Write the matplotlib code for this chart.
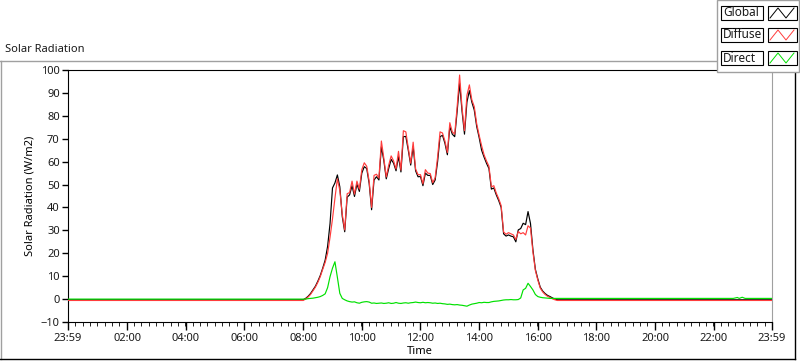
import numpy as np
import matplotlib.pyplot as plt
from matplotlib.lines import Line2D
from matplotlib.patches import Rectangle

plt.rcParams['font.family'] = ['Noto Sans', 'DejaVu Sans']

# minutes after midnight, 5-minute samples during the day
day_start, day_end, step = 480, 1020, 5

global_day = [
    -0.3, 0.3, 1.2, 2.4, 4.0, 5.6, 7.8, 10.3, 13.5, 17.0, 23.0, 33.0,       # 08
    48.5, 50.7, 54.2, 49.0, 36.0, 29.4, 44.5, 45.5, 49.5, 44.8, 50.2, 47.0,  # 09
    55.0, 57.8, 57.0, 50.5, 39.0, 52.0, 53.4, 52.0, 66.5, 60.5, 52.5, 57.0,  # 10
    61.0, 59.3, 56.0, 62.2, 55.5, 70.9, 71.0, 65.0, 58.5, 66.5, 56.0, 53.4,  # 11
    53.5, 49.5, 55.0, 54.0, 54.0, 50.0, 52.0, 60.0, 70.9, 71.5, 68.0, 63.0,  # 12
    75.3, 72.0, 70.9, 82.0, 94.2, 82.0, 72.0, 86.0, 91.0, 86.0, 82.5, 75.3,  # 13
    70.5, 65.0, 62.0, 59.3, 57.0, 48.0, 48.5, 45.5, 43.0, 40.0, 28.5, 27.5,  # 14
    28.0, 27.5, 27.2, 25.0, 30.2, 30.8, 33.1, 32.5, 38.2, 33.0, 21.5, 13.0,  # 15
    8.8, 5.2, 3.5, 2.4, 1.6, 1.1, 0.5, 0.0, -0.3, -0.3, -0.3, -0.3,          # 16
    -0.3,
]
diffuse_day = [
    -0.6, 0.0, 0.9, 2.0, 3.6, 5.2, 7.3, 9.8, 13.0, 16.0, 20.0, 27.0,
    35.0, 44.0, 52.5, 47.5, 37.0, 30.2, 46.0, 46.5, 51.5, 45.8, 51.5, 48.0,
    56.5, 59.5, 58.0, 51.5, 40.0, 54.0, 54.5, 52.8, 69.0, 61.5, 53.3, 58.5,
    62.5, 60.3, 56.8, 64.5, 56.3, 73.5, 73.0, 66.0, 59.3, 68.5, 56.8, 54.3,
    54.3, 50.3, 56.5, 55.0, 54.8, 50.8, 53.0, 62.0, 73.0, 72.5, 69.0, 64.0,
    77.0, 73.0, 72.0, 84.0, 97.8, 83.5, 73.5, 89.0, 93.5, 87.0, 84.0, 76.5,
    71.5, 67.0, 63.0, 60.3, 58.0, 49.0, 49.5, 46.3, 43.8, 40.8, 29.3, 28.3,
    29.0, 28.5, 28.0, 26.0, 29.5, 28.5, 29.0, 28.0, 32.0, 31.0, 20.5, 12.5,
    8.3, 4.8, 3.1, 2.0, 1.2, 0.7, 0.1, -0.3, -0.6, -0.6, -0.6, -0.6,
    -0.6,
]
direct_day = [
    0.0, 0.0, 0.2, 0.3, 0.4, 0.6, 0.8, 1.1, 1.6, 2.3, 5.0, 9.8,
    13.5, 16.3, 9.5, 2.5, 0.3, -0.3, -0.8, -1.1, -1.3, -1.2, -1.6, -1.8,
    -1.4, -1.2, -1.1, -1.3, -1.8, -1.7, -1.9, -1.8, -1.7, -1.9, -1.8, -1.6,
    -1.9, -1.8, -1.5, -1.8, -1.9, -1.7, -1.6, -1.8, -1.6, -1.5, -1.3, -1.5,
    -1.6, -1.4, -1.6, -1.5, -1.6, -1.8, -1.7, -1.9, -1.8, -2.0, -2.1, -2.3,
    -2.2, -2.4, -2.5, -2.4, -2.6, -2.7, -2.9, -3.1, -2.6, -2.2, -2.0, -1.8,
    -1.5, -1.6, -1.4, -1.5, -1.5, -1.2, -1.0, -0.9, -0.8, -0.6, -0.4, -0.3,
    -0.3, -0.2, -0.3, -0.3, -0.2, 0.5, 4.0, 4.7, 6.9, 5.5, 4.0, 2.0,
    1.1, 0.8, 0.6, 0.5, 0.4, 0.3, 0.3, 0.3, 0.3, 0.3, 0.3, 0.3,
    0.3,
]

# night readings
morning_t = [-1]
morning_global = [-0.3]
morning_diffuse = [-0.6]
morning_direct = [0.0]
evening_t = [1360, 1368, 1372, 1378, 1384, 1439]
evening_global = [-0.3, -0.3, -0.3, -0.3, -0.3, -0.3]
evening_diffuse = [-0.6, -0.6, -0.6, -0.6, -0.6, -0.6]
evening_direct = [0.3, 0.7, 0.3, 0.8, 0.3, 0.3]

x_ticks = [-1, 120, 240, 360, 480, 600, 720, 840, 960, 1080, 1200, 1320, 1439]
x_labels = ['23:59', '02:00', '04:00', '06:00', '08:00', '10:00', '12:00',
            '14:00', '16:00', '18:00', '20:00', '22:00', '23:59']

series = [
    ('Global', global_day, morning_global, evening_global, '#000000'),
    ('Diffuse', diffuse_day, morning_diffuse, evening_diffuse, '#ff3c3c'),
    ('Direct', direct_day, morning_direct, evening_direct, '#00e000'),
]

W, H = 800, 361
def fx(px):
    return px / W
def fy(py):
    return 1 - py / H

fig = plt.figure(figsize=(8, 3.61), dpi=100)
ax = fig.add_axes([fx(68), fy(322), fx(772) - fx(68), fy(70) - fy(322)])

day_t = np.arange(day_start, day_end + 1, step)
order = [1, 0, 2]  # diffuse under global, direct on top
for i in order:
    name, day, am, pm, col = series[i]
    t = np.concatenate([morning_t, day_t, evening_t])
    v = np.concatenate([am, day, pm])
    ax.plot(t, v, color=col, lw=0.85, zorder=2 + i)

ax.set_xlim(-1, 1439)
ax.set_ylim(-10, 100)
ax.set_yticks(np.arange(-10, 101, 10))
ax.set_xticks(x_ticks)
ax.set_xticklabels(x_labels)
ax.set_xticks(np.arange(14, 1439, 15), minor=True)
ax.tick_params(axis='both', labelsize=8, color='black', labelcolor='#1a1a1a', width=1)
ax.tick_params(axis='x', which='major', length=6, pad=2)
ax.tick_params(axis='x', which='minor', length=3)
ax.tick_params(axis='y', length=4, pad=2)
ax.set_xlabel('Time', fontsize=8, labelpad=1)
ax.set_ylabel('Solar Radiation (W/m2)', fontsize=8, labelpad=4)
for s in ['left', 'bottom', 'top']:
    ax.spines[s].set_color('black')
ax.spines['right'].set_color('#a0a0a0')

# panel frame
fig.add_artist(Line2D([fx(0), fx(717)], [fy(61), fy(61)], color='#a0a0a0', lw=1))
fig.add_artist(Line2D([fx(0.5), fx(0.5)], [fy(61), fy(359)], color='#a0a0a0', lw=1))
fig.add_artist(Line2D([fx(0), fx(795)], [fy(359), fy(359)], color='black', lw=1))
fig.add_artist(Line2D([fx(795), fx(795)], [fy(72), fy(359)], color='black', lw=1))
fig.text(fx(5), fy(50), 'Solar Radiation', fontsize=8, va='center', ha='left', color='#1a1a1a')

# legend panel
fig.add_artist(Rectangle((fx(717), fy(72)), fx(82), 72 / H, facecolor='white',
                         edgecolor='#a0a0a0', lw=1, zorder=5))
row_y = [13, 35, 58]
for (name, _, _, _, col), cy in zip(series, row_y):
    fig.add_artist(Rectangle((fx(721), fy(cy + 7)), fx(42), 14 / H, facecolor='white',
                             edgecolor='black', lw=0.8, zorder=6))
    fig.add_artist(Rectangle((fx(768), fy(cy + 7)), fx(29), 14 / H, facecolor='white',
                             edgecolor='black', lw=0.8, zorder=6))
    fig.text(fx(723), fy(cy), name, fontsize=8.5, va='center', ha='left',
             color='#1a1a1a', zorder=7)
    fig.add_artist(Line2D([fx(770), fx(778), fx(786), fx(794)],
                          [fy(cy + 5), fy(cy - 5), fy(cy + 5), fy(cy - 5)],
                          color=col, lw=0.7, zorder=7))

fig.savefig('out.png', dpi=100)
